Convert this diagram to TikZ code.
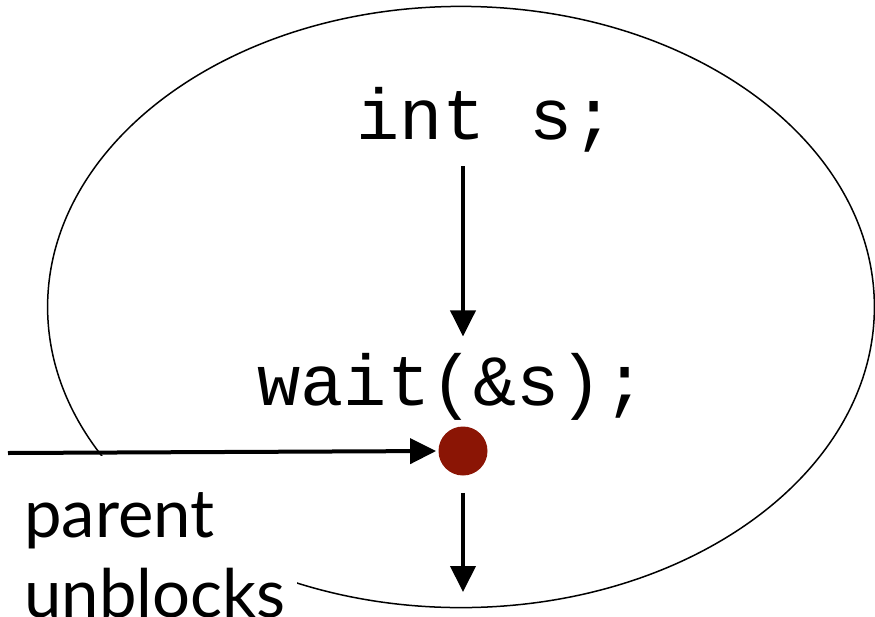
\documentclass[tikz,border=0pt]{standalone}
\usepackage{fontspec}
\setmonofont{Liberation Mono}
\newfontfamily\notefont{Lato}
\usetikzlibrary{positioning,arrows.meta}
\definecolor{dotred}{RGB}{139,21,5}

\begin{document}
\begin{tikzpicture}
        [x=0.5pt,y=-0.5pt,
         code/.style={font=\ttfamily\fontsize{36}{40}\selectfont,inner sep=0pt,anchor=base},
         arr/.style={-{Triangle[length=13pt,width=12.5pt]},line width=2pt},
         note/.style={font=\notefont\fontsize{33.5}{40}\selectfont,align=left,fill=white,
                      anchor=north west,inner xsep=6pt,inner ysep=18pt}]
        \useasboundingbox (0,0) rectangle (875,617);
        \draw[line width=0.75pt] (461,307) ellipse [x radius=206.7pt,y radius=150.3pt];
        \node[code](int) at (486,139){int s;};
        \node[code](wait) at (452,405){wait(\&s);};
        \node[circle,fill=dotred,minimum size=24.5pt,inner sep=0pt](dot) at (463,451){};
        \node[note](parent) at (12,456){parent\\unblocks};
        \coordinate (src) at (8,453);
        \coordinate (exit) at (463,592);
        \draw[arr,shorten <=7pt,shorten >=8pt] (int.south -| dot.center) -- (wait.north -| dot.center);
        \draw[arr,shorten >=1pt] (src) -- (dot.west);
        \draw[arr,shorten <=8.5pt] (dot.south) -- (exit);
    \end{tikzpicture}
\end{document}
